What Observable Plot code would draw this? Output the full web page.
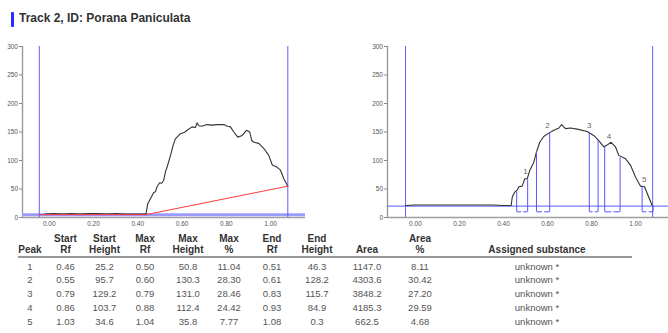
<!DOCTYPE html>
<html><head><meta charset="utf-8">
<script src="https://cdn.jsdelivr.net/npm/d3@7"></script>
<script src="https://cdn.jsdelivr.net/npm/@observablehq/plot@0.6"></script>
<style>
html,body{margin:0;padding:0;background:#fff;overflow:hidden;width:668px;height:333px;}
#root{position:relative;width:668px;height:333px;font-family:"Liberation Sans",Arial,sans-serif;}
.title{position:absolute;left:19px;top:11px;font-size:12px;font-weight:bold;color:#333;line-height:15px;}
.bar{position:absolute;left:11px;top:12px;width:3px;height:15px;background:#2b2bff;border-radius:1px;}
.chart{position:absolute;top:0;}
.cell{position:absolute;transform:translate(-50%,-50%);white-space:nowrap;line-height:11px;}
.hd{font-weight:bold;color:#333;font-size:10px;}
.val{color:#555;font-size:9.5px;}
.rule{position:absolute;left:18px;width:614px;top:256px;height:2px;background:#999;}
</style>
</head><body>
<div id="root">
  <div class="bar"></div>
  <div class="title">Track 2, ID: Porana Paniculata</div>
</div>
<script>
// ---- chart data ----
const yTicks = [0, 50, 100, 150, 200, 250, 300];
const xTicks = [0, 0.2, 0.4, 0.6, 0.8, 1.0];
const bounds = [-0.045, 1.078];

// raw densitogram (left)
const leftRf = [-0.02, 0.02, 0.06, 0.10, 0.14, 0.18, 0.22, 0.26, 0.30, 0.34, 0.38, 0.42, 0.437, 0.445, 0.457, 0.472, 0.480, 0.487, 0.499, 0.508, 0.517, 0.525, 0.533, 0.548, 0.560, 0.570, 0.593, 0.610, 0.623, 0.645, 0.660, 0.668, 0.676, 0.69, 0.713, 0.736, 0.759, 0.789, 0.805, 0.819, 0.834, 0.852, 0.872, 0.891, 0.906, 0.915, 0.925, 0.947, 0.97, 0.992, 1.008, 1.02, 1.03, 1.045, 1.06, 1.078];
const leftH  = [6, 7, 6, 7, 6, 7, 7, 6, 7, 6, 6, 6, 6, 24, 33, 44, 45, 54, 61, 60, 65, 80, 89, 109, 127, 138, 147, 149, 153, 159, 158, 166, 161, 160, 163, 162, 163, 163, 160, 159, 150, 141, 144, 153, 150, 135, 132, 130, 121, 109, 92, 90, 88, 83, 68, 55];
const redRf = [-0.045, 0.437, 1.078];
const redH  = [5, 5, 55];
const leftBase = 5;

// baseline-corrected densitogram (right)
const rightRf = [-0.045, 0.0, 0.05, 0.10, 0.15, 0.20, 0.25, 0.30, 0.35, 0.40, 0.435, 0.44, 0.45, 0.462, 0.47, 0.485, 0.497, 0.508, 0.52, 0.538, 0.55, 0.565, 0.583, 0.606, 0.629, 0.652, 0.664, 0.682, 0.705, 0.735, 0.78, 0.81, 0.833, 0.856, 0.871, 0.889, 0.909, 0.924, 0.955, 0.977, 1.0, 1.023, 1.041, 1.06, 1.076];
const rightH  = [21, 22, 22, 22, 22, 22, 22, 22, 22, 21, 21, 36, 44, 48, 54, 55, 68, 68, 83, 97, 115, 132, 142, 148, 153, 157, 163, 156, 157, 155, 151, 144, 135, 124, 127, 132, 124, 109, 103, 92, 71, 55, 54, 36, 21];
const rightBase = 20;
const bracketLevel = 10;

// ---- peak table ----
const peakIds     = [1, 2, 3, 4, 5];
const startRf     = [0.46, 0.55, 0.79, 0.86, 1.03];
const startHeight = [25.2, 95.7, 129.2, 103.7, 34.6];
const maxRf       = [0.50, 0.60, 0.79, 0.88, 1.04];
const maxHeight   = [50.8, 130.3, 131.0, 112.4, 35.8];
const maxPct      = [11.04, 28.30, 28.46, 24.42, 7.77];
const endRf       = [0.51, 0.61, 0.83, 0.93, 1.08];
const endHeight   = [46.3, 128.2, 115.7, 84.9, 0.3];
const area        = [1147.0, 4303.6, 3848.2, 4185.3, 662.5];
const areaPct     = [8.11, 30.42, 27.20, 29.59, 4.68];
const substance   = ["unknown *", "unknown *", "unknown *", "unknown *", "unknown *"];
const headers = [["", "Peak"], ["Start", "Rf"], ["Start", "Height"], ["Max", "Rf"], ["Max", "Height"], ["Max", "%"], ["End", "Rf"], ["End", "Height"], ["", "Area"], ["Area", "%"], ["", "Assigned substance"]];

// ---- build ----
const leftData = leftRf.map((x, i) => ({x, y: leftH[i]}));
const redData = redRf.map((x, i) => ({x, y: redH[i]}));
const rightData = rightRf.map((x, i) => ({x, y: rightH[i]}));
const peaks = peakIds.map((p, i) => ({
  peak: String(p), s: startRf[i], sh: startHeight[i] + rightBase,
  m: maxRf[i], mh: maxHeight[i] + rightBase,
  e: endRf[i], eh: endHeight[i] + rightBase, mid: (startRf[i] + endRf[i]) / 2
}));

const boundColor = "#6060ff";
const common = {
  height: 232, marginTop: 46, marginBottom: 15,
  y: {domain: [0, 300]},
  style: {fontFamily: "Liberation Sans, Arial, sans-serif", fontSize: "6.5px", color: "#555", background: "transparent", overflow: "visible"}
};
const axes = (xmin) => [
  Plot.axisY(yTicks, {tickSize: 3, tickPadding: 1.5, label: null, stroke: "#888"}),
  Plot.axisX(xTicks, {tickSize: 0, tickPadding: 4, label: null, tickFormat: d3.format(".2f")}),
  Plot.ruleY([0], {stroke: "#a0a0a0", strokeWidth: 1.6}),
  Plot.ruleX([xmin], {y1: 0, y2: 300, stroke: "#999", strokeWidth: 1.4})
];

const xL = [-0.121, 1.158];
const plotL = Plot.plot({
  ...common, width: 310, marginLeft: 22, marginRight: 5,
  x: {domain: xL},
  marks: [
    ...axes(xL[0]),
    Plot.ruleY([leftBase], {stroke: "#9b9bff", strokeWidth: 3}),
    Plot.ruleX(bounds, {y1: 0, y2: 300, stroke: boundColor}),
    Plot.line(leftData, {x: "x", y: "y", stroke: "#333", strokeWidth: 1.1}),
    Plot.line(redData, {x: "x", y: "y", stroke: "#ff3b3b", strokeWidth: 1})
  ]
});

const xR = [-0.127, 1.15];
const plotR = Plot.plot({
  ...common, width: 303, marginLeft: 22, marginRight: 0,
  x: {domain: xR},
  marks: [
    ...axes(xR[0]),
    Plot.ruleY([rightBase], {stroke: "#5a5aff", strokeWidth: 1}),
    Plot.ruleX(bounds, {y1: 0, y2: 300, stroke: boundColor}),
    Plot.line(rightData, {x: "x", y: "y", stroke: "#333", strokeWidth: 1.1}),
    Plot.ruleX(peaks, {x: "s", y1: bracketLevel, y2: "sh", stroke: "#5555ff"}),
    Plot.ruleX(peaks, {x: "e", y1: bracketLevel, y2: "eh", stroke: "#5555ff"}),
    Plot.link(peaks, {x1: "s", x2: d => d.mid - 0.005, y1: bracketLevel, y2: bracketLevel, stroke: "#5555ff"}),
    Plot.link(peaks, {x1: d => d.mid + 0.005, x2: "e", y1: bracketLevel, y2: bracketLevel, stroke: "#5555ff"}),
    Plot.text(peaks, {x: "m", y: "mh", text: "peak", dy: -6, fontSize: 8, fill: "#666"})
  ]
});

const root = document.getElementById("root");
plotL.classList.add("chart"); plotL.style.left = "0px";
plotR.classList.add("chart"); plotR.style.left = "365px";
root.appendChild(plotL); root.appendChild(plotR);

// table
const colX = [30, 65.5, 104.5, 145, 188, 229, 272, 317, 367, 420, 537];
const f2 = d3.format(".2f"), f1 = d3.format(".1f");
const rows = peakIds.map((p, i) => [String(p), f2(startRf[i]), f1(startHeight[i]), f2(maxRf[i]), f1(maxHeight[i]), f2(maxPct[i]), f2(endRf[i]), f1(endHeight[i]), f1(area[i]), f2(areaPct[i]), substance[i]]);
function cell(text, x, y, cls) {
  const d = document.createElement("div");
  d.className = "cell " + cls; d.textContent = text;
  d.style.left = x + "px"; d.style.top = y + "px";
  root.appendChild(d);
}
headers.forEach((h, j) => { if (h[0]) cell(h[0], colX[j], 237.5, "hd"); cell(h[1], colX[j], 249, "hd"); });
const r = document.createElement("div"); r.className = "rule"; root.appendChild(r);
rows.forEach((row, i) => row.forEach((t, j) => cell(t, colX[j], 265.7 + i * 13.7, "val")));
</script>
</body></html>
